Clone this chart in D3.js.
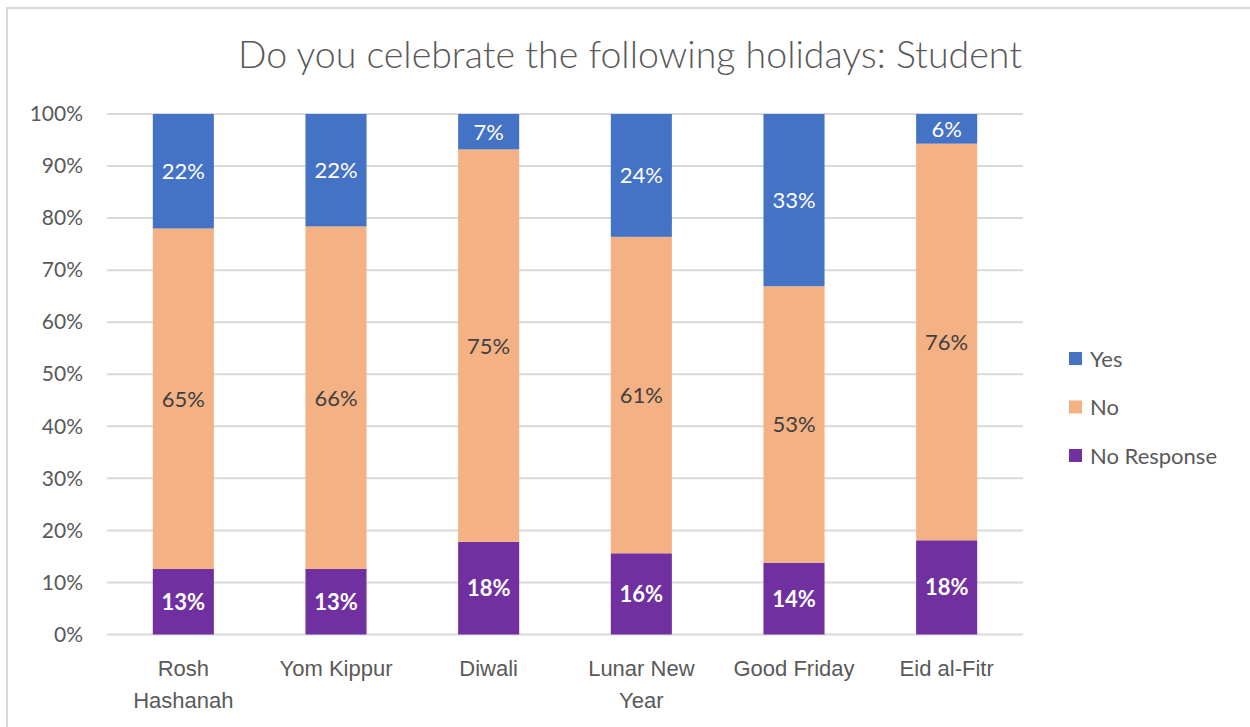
<!DOCTYPE html>
<html>
<head>
<meta charset="utf-8">
<script src="https://cdn.jsdelivr.net/npm/d3@7"></script>
<style>
  html, body { margin: 0; padding: 0; background: #ffffff; }
  svg { display: block; font-family: Lato, "Open Sans", sans-serif; }
</style>
</head>
<body>
<svg id="chart" width="1250" height="727"></svg>
<script>
// Survey shares (percent) per holiday
const categories = ["Rosh Hashanah", "Yom Kippur", "Diwali", "Lunar New Year", "Good Friday", "Eid al-Fitr"];
const noResponse = [12.6, 12.6, 17.8, 15.6, 13.8, 18.1];
const no         = [65.4, 65.8, 75.4, 60.8, 53.1, 76.2];
const yes        = [22.0, 21.6, 6.8, 23.6, 33.1, 5.7];
const seriesNames = ["No Response", "No", "Yes"];
const yTicks = [0, 10, 20, 30, 40, 50, 60, 70, 80, 90, 100];

const colors = { "Yes": "#4472C4", "No": "#F4B183", "No Response": "#7030A0" };
const labelStyle = {
  "Yes": { fill: "#ffffff", weight: 400 },
  "No": { fill: "#404040", weight: 400 },
  "No Response": { fill: "#ffffff", weight: 700 }
};

const rows = categories.map((c, i) => ({
  category: c, "No Response": noResponse[i], "No": no[i], "Yes": yes[i]
}));

const svg = d3.select("#chart");

// Chart frame
svg.append("rect")
  .attr("x", 7).attr("y", 8).attr("width", 1300).attr("height", 800)
  .attr("fill", "none").attr("stroke", "#d9d9d9").attr("stroke-width", 2);

const plot = { left: 107, right: 1023, top: 114, bottom: 634.5 };

const x = d3.scaleBand().domain(categories)
  .range([plot.left, plot.right]).paddingInner(0.6).paddingOuter(0.3);
const y = d3.scaleLinear().domain([0, 100]).range([plot.bottom, plot.top]);

// Title
svg.append("text")
  .attr("x", 630).attr("y", 68)
  .attr("text-anchor", "middle")
  .attr("font-size", 37.5).attr("font-weight", 300)
  .attr("fill", "#595959")
  .text("Do you celebrate the following holidays: Student");

// Gridlines
svg.append("g").selectAll("line").data(yTicks).join("line")
  .attr("x1", plot.left).attr("x2", plot.right)
  .attr("y1", d => y(d)).attr("y2", d => y(d))
  .attr("stroke", "#d9d9d9").attr("stroke-width", 2);

// Y axis labels
const yAxis = d3.axisLeft(y).tickValues(yTicks).tickFormat(d => d + "%").tickSize(0).tickPadding(24);
const gy = svg.append("g").attr("transform", `translate(${plot.left},0)`).call(yAxis);
gy.select(".domain").remove();
gy.selectAll("text").attr("font-size", 21).attr("fill", "#595959")
  .attr("font-family", "Lato, 'Open Sans', sans-serif");

// Stacked bars
const stack = d3.stack().keys(seriesNames);
const stacked = stack(rows);

const layers = svg.append("g").selectAll("g").data(stacked).join("g")
  .attr("fill", d => colors[d.key]);

layers.selectAll("rect").data(d => d.map(p => ({ key: d.key, p }))).join("rect")
  .attr("x", d => x(d.p.data.category))
  .attr("width", x.bandwidth())
  .attr("y", d => y(d.p[1]))
  .attr("height", d => y(d.p[0]) - y(d.p[1]));

// Value labels centred in each segment
const fmt = v => Math.round(v) + "%";
svg.append("g").selectAll("g").data(stacked).join("g")
  .each(function(layer) {
    d3.select(this).selectAll("text").data(layer).join("text")
      .attr("x", p => x(p.data.category) + x.bandwidth() / 2)
      .attr("y", p => (y(p[0]) + y(p[1])) / 2)
      .attr("dy", "0.36em")
      .attr("text-anchor", "middle")
      .attr("font-size", 22)
      .attr("font-weight", labelStyle[layer.key].weight)
      .attr("fill", labelStyle[layer.key].fill)
      .text(p => fmt(p.data[layer.key]));
  });

// Category axis labels (wrapped)
const xAxis = d3.axisBottom(x).tickSize(0).tickPadding(0);
const gx = svg.append("g").attr("transform", `translate(0,${plot.bottom})`).call(xAxis);
gx.select(".domain").remove();
gx.selectAll("text").remove();
const wrapLines = { "Rosh Hashanah": ["Rosh", "Hashanah"], "Lunar New Year": ["Lunar New", "Year"] };
gx.selectAll(".tick").append("text")
  .attr("text-anchor", "middle")
  .attr("font-size", 22)
  .attr("fill", "#595959")
  .each(function(d) {
    const lines = wrapLines[d] || [d];
    d3.select(this).selectAll("tspan").data(lines).join("tspan")
      .attr("x", 0)
      .attr("y", (l, i) => 41 + i * 32)
      .text(l => l);
  });

// Legend
const legendItems = ["Yes", "No", "No Response"];
const legend = svg.append("g").attr("transform", "translate(1069,359)");
const li = legend.selectAll("g").data(legendItems).join("g")
  .attr("transform", (d, i) => `translate(0,${i * 48.5})`);
li.append("rect").attr("x", 0).attr("y", -7).attr("width", 13).attr("height", 13)
  .attr("fill", d => colors[d]);
li.append("text").attr("x", 21).attr("y", 0).attr("dy", "0.36em")
  .attr("font-size", 22).attr("fill", "#595959").text(d => d);
</script>
</body>
</html>
